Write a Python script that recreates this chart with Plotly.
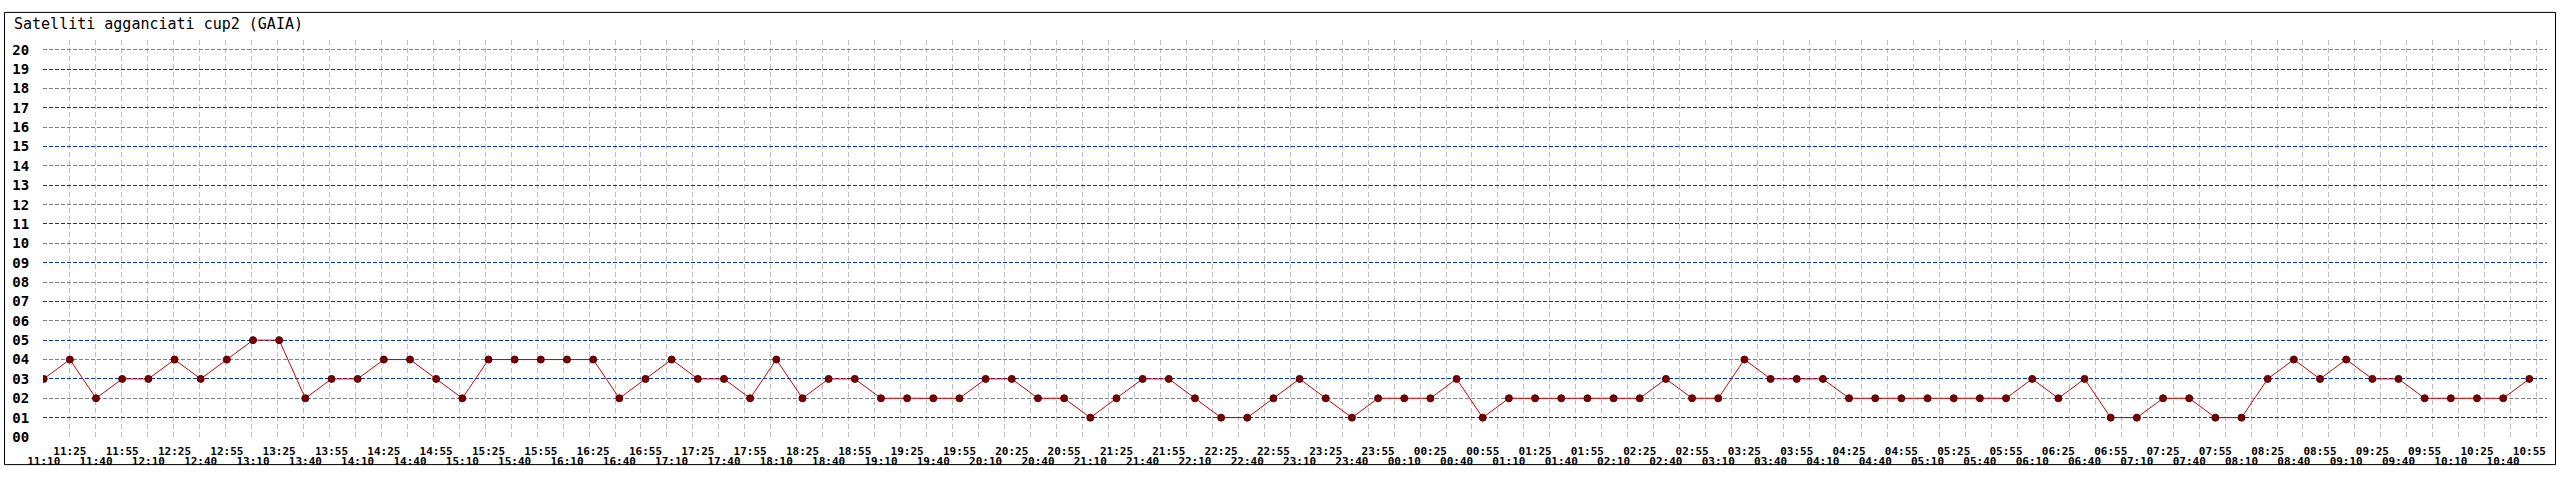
import plotly.graph_objects as go

# ---- data ----
times = [
    "11:10", "11:25", "11:40", "11:55", "12:10", "12:25", "12:40", "12:55",
    "13:10", "13:25", "13:40", "13:55", "14:10", "14:25", "14:40", "14:55",
    "15:10", "15:25", "15:40", "15:55", "16:10", "16:25", "16:40", "16:55",
    "17:10", "17:25", "17:40", "17:55", "18:10", "18:25", "18:40", "18:55",
    "19:10", "19:25", "19:40", "19:55", "20:10", "20:25", "20:40", "20:55",
    "21:10", "21:25", "21:40", "21:55", "22:10", "22:25", "22:40", "22:55",
    "23:10", "23:25", "23:40", "23:55", "00:10", "00:25", "00:40", "00:55",
    "01:10", "01:25", "01:40", "01:55", "02:10", "02:25", "02:40", "02:55",
    "03:10", "03:25", "03:40", "03:55", "04:10", "04:25", "04:40", "04:55",
    "05:10", "05:25", "05:40", "05:55", "06:10", "06:25", "06:40", "06:55",
    "07:10", "07:25", "07:40", "07:55", "08:10", "08:25", "08:40", "08:55",
    "09:10", "09:25", "09:40", "09:55", "10:10", "10:25", "10:40", "10:55",
]
satellites = [
    3, 4, 2, 3, 3, 4, 3, 4, 5, 5, 2, 3, 3, 4, 4, 3,
    2, 4, 4, 4, 4, 4, 2, 3, 4, 3, 3, 2, 4, 2, 3, 3,
    2, 2, 2, 2, 3, 3, 2, 2, 1, 2, 3, 3, 2, 1, 1, 2,
    3, 2, 1, 2, 2, 2, 3, 1, 2, 2, 2, 2, 2, 2, 3, 2,
    2, 4, 3, 3, 3, 2, 2, 2, 2, 2, 2, 2, 3, 2, 3, 1,
    1, 2, 2, 1, 1, 3, 4, 3, 4, 3, 3, 2, 2, 2, 2, 3,
]
y_ticks = list(range(0, 21))
y_ticktext = ["%02d" % v for v in y_ticks]
title_text = "Satelliti agganciati cup2 (GAIA)"

# ---- layout geometry (pixels) ----
W, H = 2560, 480
L, R, T, B = 40, 13, 40, 30
PW, PH = W - L - R, H - T - B
first_px, step_px, grid_step_px = 40.7, 26.196, 26.0

def px_to_paper_x(px):
    return (px - L) / PW

def px_to_paper_y(py):
    return (H - B - py) / PH

idx = list(range(len(times)))
x_range = [(L - first_px) / step_px, (W - R - first_px) / step_px]
g_range = [(L - first_px) / grid_step_px, (W - R - first_px) / grid_step_px]
y_range = [0, 20.5]

mono = "DejaVu Sans Mono"

fig = go.Figure()

# dummy traces so the overlay subplots exist
for xa, ya in [("x", "y"), ("x2", "y2"), ("x3", "y3")]:
    fig.add_trace(go.Scatter(x=[0], y=[-10], xaxis=xa, yaxis=ya, mode="markers",
                             marker=dict(opacity=0), hoverinfo="skip", showlegend=False))

fig.add_trace(go.Scatter(
    x=idx, y=satellites, xaxis="x4", yaxis="y4",
    mode="lines+markers",
    line=dict(color="#d00000", width=1),
    marker=dict(size=7, color="#7a0000", line=dict(color="#500000", width=1)),
    showlegend=False, hoverinfo="skip",
))

common = dict(showline=False, zeroline=False, fixedrange=True)

fig.update_layout(
    width=W, height=H,
    margin=dict(l=L, r=R, t=T, b=B, pad=0),
    paper_bgcolor="white", plot_bgcolor="white",
    showlegend=False,
    # main: y tick labels
    xaxis=dict(range=x_range, showgrid=False, showticklabels=False, ticks="", **common),
    yaxis=dict(range=y_range, tickvals=y_ticks, ticktext=y_ticktext, showgrid=False,
               ticks="outside", ticklen=10, tickcolor="rgba(0,0,0,0)",
               tickfont=dict(family=mono, size=14, color="black", weight="bold"), **common),
    # vertical grid + gray horizontal grid
    xaxis2=dict(range=g_range, overlaying="x", anchor="y2", tickvals=list(range(0, 97)),
                showgrid=True, gridcolor="#bdbdbd", gridwidth=1, griddash="5px,3px",
                showticklabels=False, ticks="", **common),
    yaxis2=dict(range=y_range, overlaying="y", anchor="x2", tickvals=y_ticks[2::2],
                showgrid=True, gridcolor="#808080", gridwidth=1, griddash="4px,2px",
                showticklabels=False, ticks="", **common),
    # odd x labels (upper row) + blue horizontal grid
    xaxis3=dict(range=x_range, overlaying="x", anchor="y3", tickvals=idx[1::2],
                ticktext=times[1::2], showgrid=False, ticks="outside", ticklen=4,
                tickcolor="rgba(0,0,0,0)",
                tickfont=dict(family=mono, size=11, color="black", weight="bold"), **common),
    yaxis3=dict(range=y_range, overlaying="y", anchor="x3", tickvals=y_ticks[1::2],
                showgrid=True, gridcolor="#0033cc", gridwidth=1, griddash="4px,2px",
                showticklabels=False, ticks="", **common),
    # even x labels (lower row) + data
    xaxis4=dict(range=x_range, overlaying="x", anchor="y4", tickvals=idx[0::2],
                ticktext=times[0::2], showgrid=False, ticks="outside", ticklen=14,
                tickcolor="rgba(0,0,0,0)",
                tickfont=dict(family=mono, size=11, color="black", weight="bold"), **common),
    yaxis4=dict(range=y_range, overlaying="y", anchor="x4", showgrid=False,
                showticklabels=False, ticks="", **common),
)

# outer frame
fig.add_shape(type="rect", xref="paper", yref="paper",
              x0=px_to_paper_x(1.5), x1=px_to_paper_x(2555.5),
              y0=px_to_paper_y(478.5), y1=px_to_paper_y(11.5),
              line=dict(color="black", width=1), fillcolor="rgba(0,0,0,0)", layer="above")

fig.add_annotation(text=title_text, xref="paper", yref="paper",
                   x=px_to_paper_x(9), y=px_to_paper_y(23), xanchor="left", yanchor="middle",
                   showarrow=False, font=dict(family=mono, size=15, color="black"))

fig.write_html("out.html", post_script="document.body.style.margin='0px';",
               config={"displayModeBar": False})
